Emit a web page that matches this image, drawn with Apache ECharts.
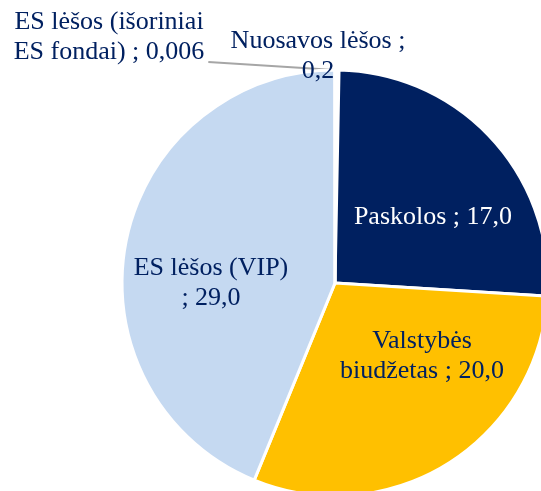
<!DOCTYPE html>
<html>
<head>
<meta charset="utf-8">
<script src="https://cdn.jsdelivr.net/npm/echarts@6/dist/echarts.min.js"></script>
<style>
  html, body { margin: 0; padding: 0; background: #fff; }
  #chart { width: 541px; height: 491px; }
</style>
</head>
<body>
<div id="chart"></div>
<script>
// šaltiniai (mln. Eur)
const names = [
  'Nuosavos lėšos ;\n',
  'Paskolos ; ',
  'Valstybės\nbiudžetas ; ',
  'ES lėšos (VIP)\n; ',
  'ES lėšos (išoriniai\nES fondai) ; '
]
const values = [0.2, 17.0, 20.0, 29.0, 0.006]
const valueLabels = ['0,2', '17,0', '20,0', '29,0', '0,006']
const colors = ['#FFFFFF', '#002060', '#FFC000', '#C5D9F1', '#C5D9F1']

// label centres
const labelPos = [
  [318, 56],
  [433, 217],
  [422, 356],
  [211, 283],
  [109, 37]
]

const chart = echarts.init(document.getElementById('chart'))

const option = {
  animation: false,
  series: [
    {
      type: 'pie',
      center: [335, 283],
      radius: 213,
      startAngle: 90,
      clockwise: true,
      avoidLabelOverlap: false,
      itemStyle: {
        borderColor: '#fff',
        borderWidth: 3
      },
      label: {
        show: true,
        position: 'inside',
        fontFamily: 'Liberation Serif',
        fontSize: 26,
        lineHeight: 30,
        color: '#002060',
        align: 'center',
        formatter: p => names[p.dataIndex] + valueLabels[p.dataIndex]
      },
      labelLine: { show: false },
      labelLayout: p => {
        const [x, y] = labelPos[p.dataIndex]
        const res = { x, y, align: 'center', verticalAlign: 'middle' }
        if (p.dataIndex === 4 && p.labelLinePoints) {
          // straight leader from the slice to the right end of the label
          const start = p.labelLinePoints[0]
          const end = [x + p.labelRect.width / 2 + 4, y + 25]
          res.labelLinePoints = [start, [(start[0] + end[0]) / 2, (start[1] + end[1]) / 2], end]
        }
        return res
      },
      data: values.map((v, i) => {
        const item = {
          value: v,
          name: names[i],
          itemStyle: { color: colors[i] }
        }
        if (i === 1) item.label = { color: '#FFFFFF' }
        if (i === 4) {
          item.label = { position: 'outside' }
          item.labelLine = {
            show: true,
            length: 10,
            length2: 10,
            lineStyle: { color: '#A6A6A6', width: 2 }
          }
        }
        return item
      })
    }
  ]
}

chart.setOption(option)
window.addEventListener('resize', () => chart.resize())
</script>
</body>
</html>
